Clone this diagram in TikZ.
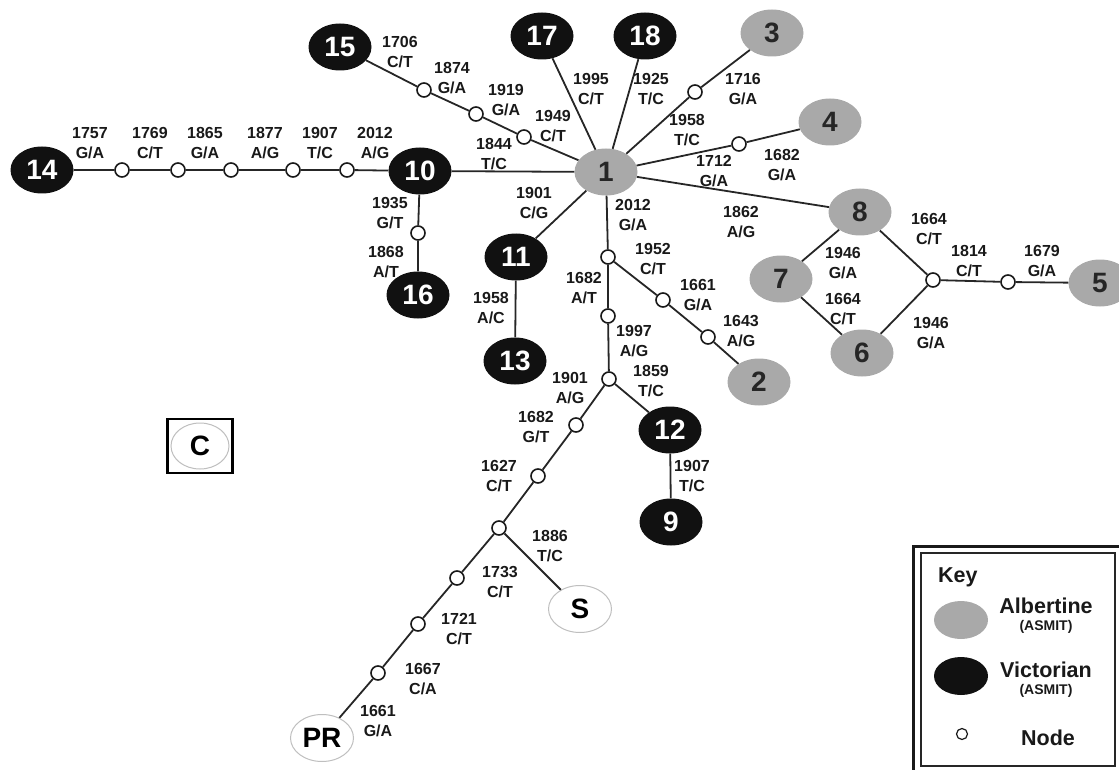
\documentclass[tikz,border=0pt]{standalone}
\usepackage{fontspec}
\setmainfont{Liberation Sans}
\usetikzlibrary{shapes.geometric}
\definecolor{alb}{HTML}{A9A9A9}
\definecolor{vic}{HTML}{111111}
\tikzset{
  hap/.style={ellipse, minimum width=63pt, minimum height=47pt, inner sep=0pt, font=\fontsize{28}{28}\selectfont\bfseries},
  albn/.style={hap, fill=alb, text=black!85},
  vicn/.style={hap, fill=vic, text=white},
  outn/.style={hap, fill=white, draw=black!25, line width=1pt},
  dot/.style={circle, draw=black!90, fill=white, line width=1.6pt, minimum size=14pt, inner sep=0pt},
  lab/.style={align=center, inner sep=0pt, font=\fontsize{16}{19.5}\selectfont\bfseries, text=black!90},
  conn/.style={line width=1.8pt, draw=black!85},
  keytxt/.style={inner sep=0pt, font=\fontsize{21.5}{22}\selectfont\bfseries, text=black!90},
  keysm/.style={inner sep=0pt, font=\fontsize{14}{15}\selectfont\bfseries, text=black!90},
}
\begin{document}
\begin{tikzpicture}[x=1pt,y=-1pt]
\useasboundingbox (0,0) rectangle (1119,770);
% haplotype nodes
\node[albn] (n1) at (606,172) {1};
\node[albn] (n2) at (759,382) {2};
\node[albn] (n3) at (772,33) {3};
\node[albn] (n4) at (830,122) {4};
\node[albn] (n5) at (1100,283) {5};
\node[albn] (n6) at (862,353) {6};
\node[albn] (n7) at (781,279) {7};
\node[albn] (n8) at (860,212) {8};
\node[vicn] (n9) at (671,522) {9};
\node[vicn] (n10) at (420,171) {10};
\node[vicn] (n11) at (516,257) {11};
\node[vicn] (n12) at (670,430) {12};
\node[vicn] (n13) at (515,361) {13};
\node[vicn] (n14) at (42,170) {14};
\node[vicn] (n15) at (340,47) {15};
\node[vicn] (n16) at (418,295) {16};
\node[vicn] (n17) at (542,36) {17};
\node[vicn] (n18) at (645,36) {18};
\node[outn] (nS) at (580,609) {S};
\node[outn] (nPR) at (322,738) {PR};
\node[draw=black, line width=2.4pt, minimum width=65pt, minimum height=54pt, inner sep=0pt] (cbox) at (200,446) {};
\node[outn, minimum width=58pt, minimum height=46pt] (nC) at (200,446) {C};
% intermediate nodes
\node[dot] (a1) at (122,170) {};
\node[dot] (a2) at (178,170) {};
\node[dot] (a3) at (231,170) {};
\node[dot] (a4) at (293,170) {};
\node[dot] (a5) at (347,170) {};
\node[dot] (b1) at (424,90) {};
\node[dot] (b2) at (476,114) {};
\node[dot] (b3) at (524,137) {};
\node[dot] (d16) at (418,233) {};
\node[dot] (d3) at (695,92) {};
\node[dot] (d4) at (739,144) {};
\node[dot] (e1) at (608,257) {};
\node[dot] (e2) at (608,316) {};
\node[dot] (e3) at (609,379) {};
\node[dot] (f1) at (663,300) {};
\node[dot] (f2) at (708,337) {};
\node[dot] (g1) at (576,425) {};
\node[dot] (g2) at (538,476) {};
\node[dot] (g3) at (499,528) {};
\node[dot] (h1) at (457,578) {};
\node[dot] (h2) at (418,624) {};
\node[dot] (h3) at (378,673) {};
\node[dot] (j1) at (933,280) {};
\node[dot] (j2) at (1008,282) {};
% connectors
\draw[conn] (n14) -- (a1) -- (a2) -- (a3) -- (a4) -- (a5) -- (n10);
\draw[conn] (n10) -- (n1);
\draw[conn] (n15) -- (b1) -- (b2) -- (b3) -- (n1);
\draw[conn] (n10) -- (d16) -- (n16);
\draw[conn] (n1) -- (n17);
\draw[conn] (n1) -- (n18);
\draw[conn] (n1) -- (d3) -- (n3);
\draw[conn] (n1) -- (d4) -- (n4);
\draw[conn] (n1) -- (n8);
\draw[conn] (n1) -- (n11);
\draw[conn] (n11) -- (n13);
\draw[conn] (n1) -- (e1) -- (e2) -- (e3);
\draw[conn] (e1) -- (f1) -- (f2) -- (n2);
\draw[conn] (e3) -- (n12);
\draw[conn] (n12) -- (n9);
\draw[conn] (e3) -- (g1) -- (g2) -- (g3);
\draw[conn] (g3) -- (h1) -- (h2) -- (h3) -- (nPR);
\draw[conn] (g3) -- (nS);
\draw[conn] (n8) -- (n7);
\draw[conn] (n7) -- (n6);
\draw[conn] (n8) -- (j1);
\draw[conn] (n6) -- (j1);
\draw[conn] (j1) -- (j2) -- (n5);
% mutation labels
\node[lab] (l01) at (90,143) {1757\\G/A};
\node[lab] (l02) at (150,143) {1769\\C/T};
\node[lab] (l03) at (205,143) {1865\\G/A};
\node[lab] (l04) at (265,143) {1877\\A/G};
\node[lab] (l05) at (320,143) {1907\\T/C};
\node[lab] (l06) at (375,143) {2012\\A/G};
\node[lab] (l07) at (400,52) {1706\\C/T};
\node[lab] (l08) at (452,78) {1874\\G/A};
\node[lab] (l09) at (506,100) {1919\\G/A};
\node[lab] (l10) at (553,126) {1949\\C/T};
\node[lab] (l11) at (494,154) {1844\\T/C};
\node[lab] (l12) at (591,89) {1995\\C/T};
\node[lab] (l13) at (651,89) {1925\\T/C};
\node[lab] (l14) at (743,89) {1716\\G/A};
\node[lab] (l15) at (687,130) {1958\\T/C};
\node[lab] (l16) at (714,171) {1712\\G/A};
\node[lab] (l17) at (782,165) {1682\\G/A};
\node[lab] (l18) at (633,215) {2012\\G/A};
\node[lab] (l19) at (741,222) {1862\\A/G};
\node[lab] (l20) at (534,203) {1901\\C/G};
\node[lab] (l21) at (653,259) {1952\\C/T};
\node[lab] (l22) at (584,288) {1682\\A/T};
\node[lab] (l23) at (698,295) {1661\\G/A};
\node[lab] (l24) at (741,331) {1643\\A/G};
\node[lab] (l25) at (634,341) {1997\\A/G};
\node[lab] (l26) at (651,381) {1859\\T/C};
\node[lab] (l27) at (570,388) {1901\\A/G};
\node[lab] (l28) at (390,213) {1935\\G/T};
\node[lab] (l29) at (386,262) {1868\\A/T};
\node[lab] (l30) at (491,308) {1958\\A/C};
\node[lab] (l31) at (536,427) {1682\\G/T};
\node[lab] (l32) at (499,476) {1627\\C/T};
\node[lab] (l33) at (692,476) {1907\\T/C};
\node[lab] (l34) at (550,546) {1886\\T/C};
\node[lab] (l35) at (500,582) {1733\\C/T};
\node[lab] (l36) at (459,629) {1721\\C/T};
\node[lab] (l37) at (423,679) {1667\\C/A};
\node[lab] (l38) at (378,721) {1661\\G/A};
\node[lab] (l39) at (929,229) {1664\\C/T};
\node[lab] (l40) at (969,261) {1814\\C/T};
\node[lab] (l41) at (1042,261) {1679\\G/A};
\node[lab] (l42) at (843,263) {1946\\G/A};
\node[lab] (l43) at (843,309) {1664\\C/T};
\node[lab] (l44) at (931,333) {1946\\G/A};
% key
\draw[line width=3pt, black!90] (913,546) rectangle (1123,774);
\draw[line width=1.3pt, black!85] (921,553) rectangle (1115,766);
\node[keytxt, anchor=west] (keyt) at (938,577) {Key};
\node[ellipse, fill=alb, minimum width=54pt, minimum height=38pt, inner sep=0pt] (ka) at (961,620) {};
\node[ellipse, fill=vic, minimum width=54pt, minimum height=38pt, inner sep=0pt] (kv) at (961,676) {};
\node[circle, draw=black!90, line width=1.2pt, minimum size=11pt, inner sep=0pt] (kn) at (962,734) {};
\node[keytxt] (kat) at (1046,606) {Albertine};
\node[keysm] (kas) at (1046,627) {(ASMIT)};
\node[keytxt] (kvt) at (1046,670) {Victorian};
\node[keysm] (kvs) at (1046,691) {(ASMIT)};
\node[keytxt] (knt) at (1048,738) {Node};
\end{tikzpicture}
\end{document}
